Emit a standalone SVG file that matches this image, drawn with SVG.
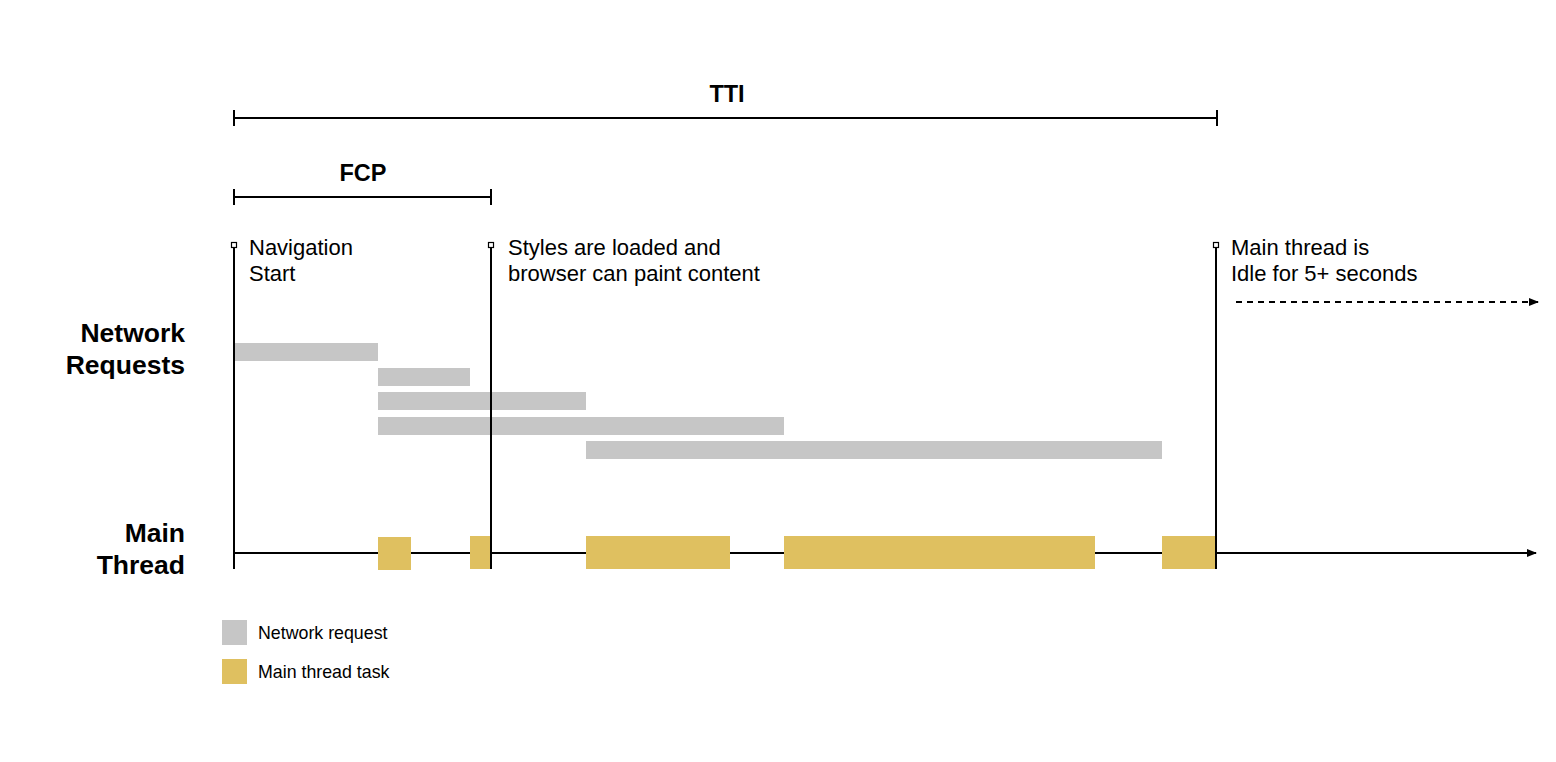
<svg xmlns="http://www.w3.org/2000/svg" width="1556" height="762" viewBox="0 0 1556 762">
<defs>
<style>
.ln{stroke:#000;stroke-width:2;fill:none}
.t{font-family:"Liberation Sans",Arial,sans-serif;fill:#000}
.b{font-weight:bold}
.body{font-size:22px}
.lab{font-size:26.5px;font-weight:bold}
.leg{font-size:17.8px}
.net{fill:#c6c6c6}
.task{fill:#dfc060}
.mk{fill:#fff;stroke:#000;stroke-width:1.2}
</style>
<marker id="ah" markerWidth="10" markerHeight="8" refX="9" refY="4" orient="auto" markerUnits="userSpaceOnUse">
<path d="M0,0 L10,4 L0,8 Z" fill="#000"/>
</marker>
</defs>
<rect width="1556" height="762" fill="#fff"/>

<g id="tti">
<line class="ln" x1="234" y1="118" x2="1217" y2="118"/>
<line class="ln" x1="234" y1="110" x2="234" y2="126"/>
<line class="ln" x1="1217" y1="110" x2="1217" y2="126"/>
<text class="t b" x="727" y="102" font-size="23.5" text-anchor="middle">TTI</text>
</g>
<g id="fcp">
<line class="ln" x1="234" y1="197" x2="491" y2="197"/>
<line class="ln" x1="234" y1="189" x2="234" y2="205"/>
<line class="ln" x1="491" y1="189" x2="491" y2="205"/>
<text class="t b" x="363" y="181" font-size="23.5" text-anchor="middle">FCP</text>
</g>

<g id="labels">
<text class="t lab" x="185" y="342" text-anchor="end">Network</text>
<text class="t lab" x="185" y="374" text-anchor="end">Requests</text>
<text class="t lab" x="185" y="542" text-anchor="end">Main</text>
<text class="t lab" x="185" y="574" text-anchor="end">Thread</text>
</g>

<g id="network">
<rect class="net" x="234" y="343" width="144" height="18"/>
<rect class="net" x="378" y="368" width="92" height="18"/>
<rect class="net" x="378" y="392" width="208" height="18"/>
<rect class="net" x="378" y="417" width="406" height="18"/>
<rect class="net" x="586" y="441" width="576" height="18"/>
</g>

<g id="connectors">
<line class="ln" x1="234" y1="553" x2="1536" y2="553" marker-end="url(#ah)"/>
<line class="ln" x1="1236" y1="302" x2="1538" y2="302" stroke-dasharray="6,5" marker-end="url(#ah)"/>
</g>

<g id="tasks">
<rect class="task" x="378" y="537" width="33" height="33"/>
<rect class="task" x="470" y="536" width="21" height="33"/>
<rect class="task" x="586" y="536" width="144" height="33"/>
<rect class="task" x="784" y="536" width="311" height="33"/>
<rect class="task" x="1162" y="536" width="54" height="33"/>
</g>

<g id="nav-start">
<line class="ln" x1="234" y1="248" x2="234" y2="569"/>
<rect class="mk" x="231.5" y="242.5" width="5" height="5"/>
<text class="t body" x="249" y="255">Navigation</text>
<text class="t body" x="249" y="281">Start</text>
</g>
<g id="styles-loaded">
<line class="ln" x1="491" y1="248" x2="491" y2="569"/>
<rect class="mk" x="488.5" y="242.5" width="5" height="5"/>
<text class="t body" x="508" y="255">Styles are loaded and</text>
<text class="t body" x="508" y="281">browser can paint content</text>
</g>
<g id="idle">
<line class="ln" x1="1216" y1="248" x2="1216" y2="569"/>
<rect class="mk" x="1213.5" y="242.5" width="5" height="5"/>
<text class="t body" x="1231" y="255">Main thread is</text>
<text class="t body" x="1231" y="281">Idle for 5+ seconds</text>
</g>

<g id="legend">
<rect class="net" x="222" y="620" width="25" height="25"/>
<text class="t leg" x="258" y="639">Network request</text>
<rect class="task" x="222" y="659" width="25" height="25"/>
<text class="t leg" x="258" y="678">Main thread task</text>
</g>
</svg>
